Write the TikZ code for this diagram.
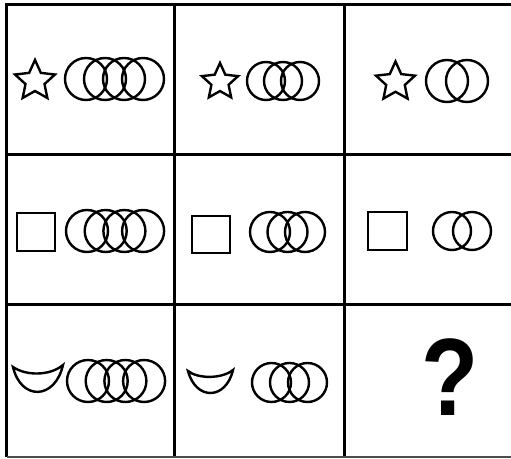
\documentclass[tikz,border=0pt]{standalone}
\usepackage{fontspec}
\setmainfont{Liberation Sans}
\usetikzlibrary{shapes.geometric}
\begin{document}
\begin{tikzpicture}[x=0.5pt, y=-0.5pt,
  gridline/.style={line width=1.5pt},
  shapeline/.style={line width=1.2pt},
  starmark/.style={star, star points=5, star point ratio=2.1, draw, line width=1.2pt, inner sep=0pt}]
\useasboundingbox (0,0) rectangle (511,459);
\pgfmathsetmacro{\top}{5}     % top edge of the grid
\pgfmathsetmacro{\bot}{457.5} % bottom edge of the grid
% Grid
\draw[gridline] (7,\bot) -- (7,\top) -- (511,\top);
\foreach \yy in {155, 305} {
    \draw[gridline] (7,\yy) -- (511,\yy);
}
\foreach \xx in {175, 345} {
    \draw[gridline] (\xx,\top) -- (\xx,\bot);
}
\draw[line width=1pt, black!70] (7,\bot) -- (511,\bot);
% Stars
\node[starmark, minimum size=21pt] (star1) at (35,81) {};
\node[starmark, minimum size=19pt] (star2) at (220,82) {};
\node[starmark, minimum size=20.5pt] (star3) at (395.5,82) {};
% Squares
\draw[shapeline] (17,213) rectangle (55,251);
\draw[shapeline] (192,216) rectangle (230,253);
\draw[shapeline] (368,212) rectangle (407,250);
% Crescents
\draw[shapeline, line join=miter] (13,367) .. controls (26,376) and (50,376) .. (63,365)
    .. controls (55,400) and (21,401) .. cycle;
\draw[shapeline, line join=miter] (188,371) .. controls (198,379) and (222,379) .. (233,370)
    .. controls (226,400) and (196,401) .. cycle;
% Rings: first centre x / centre y / count / radius / step
\foreach \cx/\cy/\n/\r/\d in {86/79/4/21/19, 266/81/3/19/17, 447/81/2/21/20,
                             87/231/4/21/18.7, 270/232/3/20/17.5, 452/231/2/19/20,
                             88/381/4/21/18.7, 271.5/382.5/3/19.5/18} {
    \foreach \k in {1,...,\n} {
        \draw[shapeline] ({\cx+(\k-1)*\d},\cy) circle[radius=\r];
    }
}
% Missing cell
\node[inner sep=0pt, xscale=0.85, font=\fontsize{55}{55}\selectfont\bfseries] (ask) at (450,377.5) {?};
\end{tikzpicture}
\end{document}
